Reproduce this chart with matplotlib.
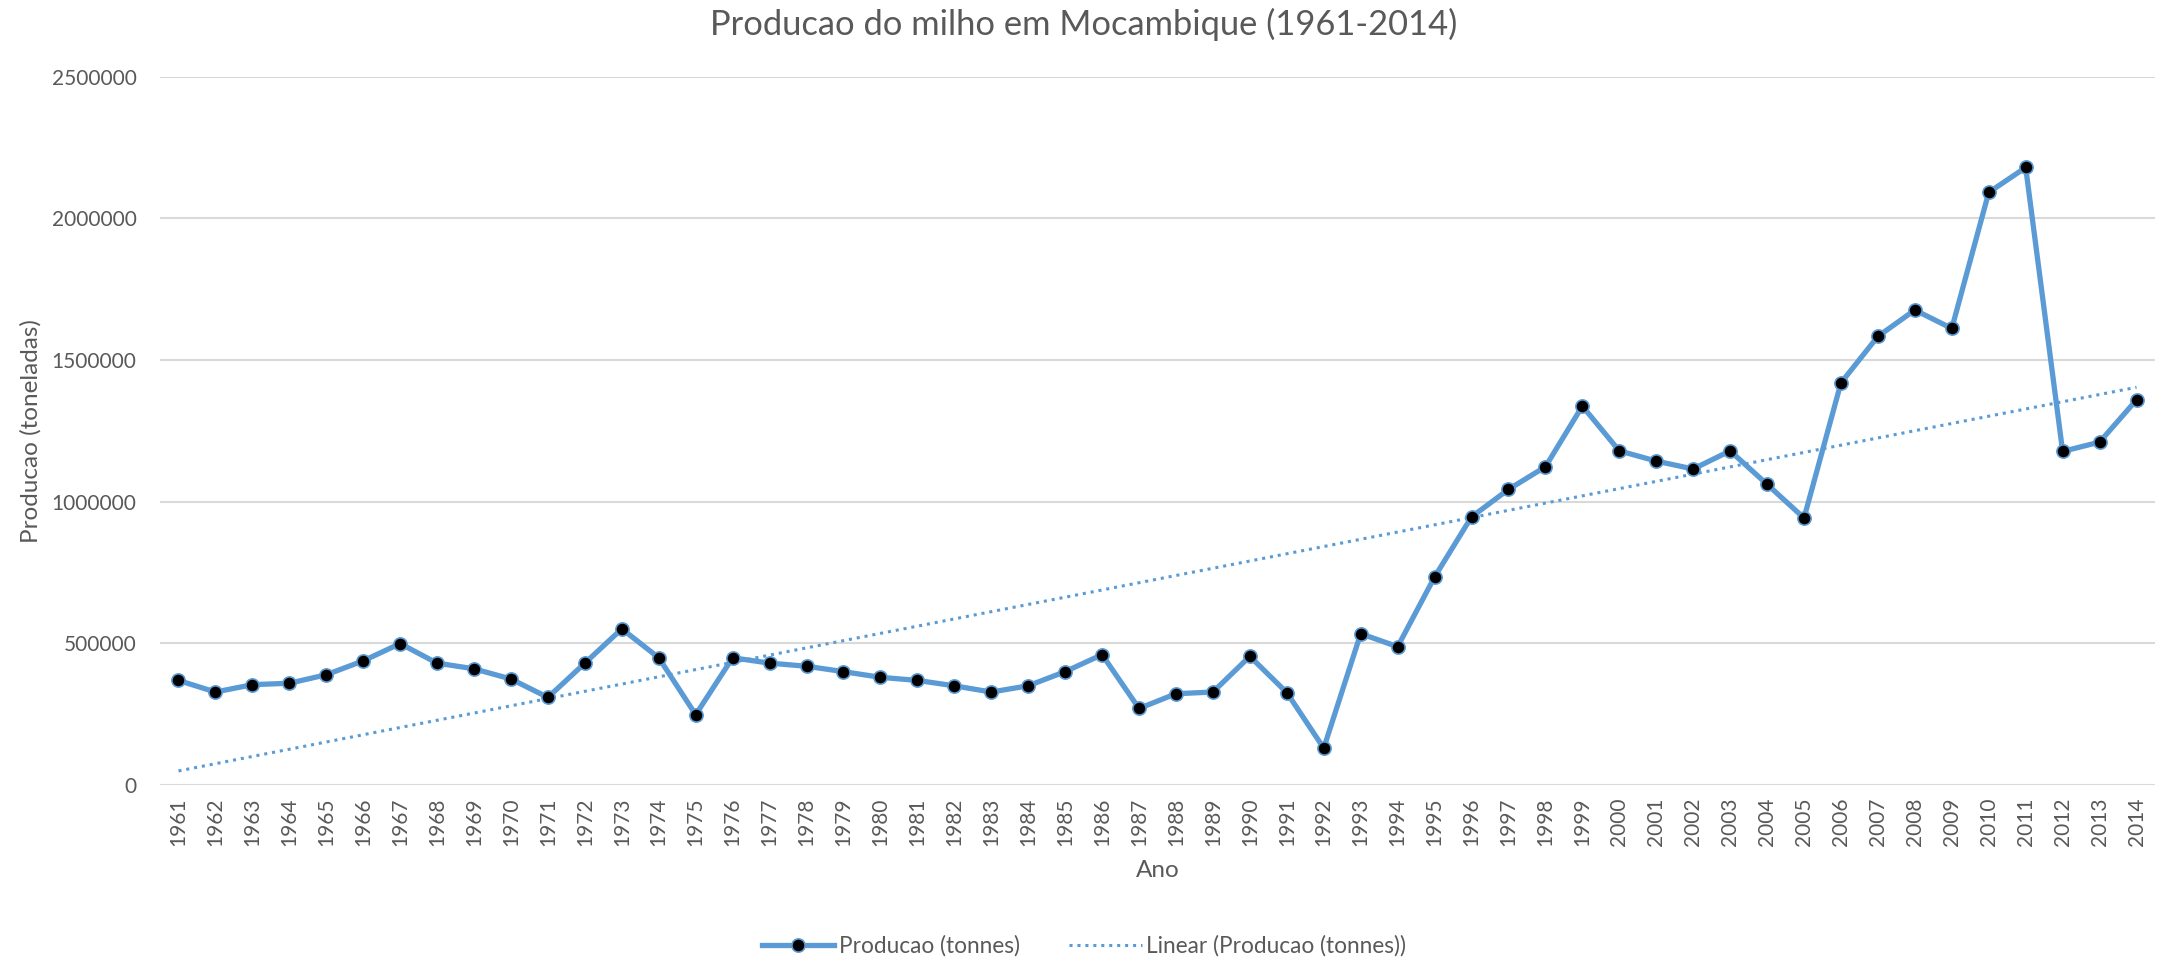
import numpy as np
import matplotlib
matplotlib.use("Agg")
import matplotlib.pyplot as plt
from matplotlib.ticker import FuncFormatter

plt.rcParams['font.family'] = ['Lato', 'DejaVu Sans']

years = list(range(1961, 2015))
production = [369000, 328000, 354000, 359000, 389000, 438000, 499000, 430000, 410000, 374000,
              309000, 430000, 551000, 449000, 248000, 449000, 430000, 419000, 400000, 380000,
              369000, 350000, 328000, 350000, 400000, 460000, 270000, 322000, 328000, 454000,
              326000, 130000, 534000, 488000, 734000, 946000, 1043000, 1123000, 1337000, 1179000,
              1143000, 1115000, 1179000, 1061000, 942000, 1419000, 1583000, 1676000, 1611000, 2091000,
              2179000, 1177000, 1210000, 1359000]
y_ticks = [0, 500000, 1000000, 1500000, 2000000, 2500000]

blue = '#5B9BD5'
grey_text = '#595959'
grid_col = '#D9D9D9'

fig = plt.figure(figsize=(21.68, 9.6), dpi=100)
ax = fig.add_axes([0.0738, 0.1823, 0.9202, 0.738])

x = np.arange(len(years))
coef = np.polyfit(x, production, 1)
trend = np.polyval(coef, x)

ax.plot(x, production, color=blue, linewidth=3.8, marker='o', markersize=9.5,
        markerfacecolor='black', markeredgecolor=blue, markeredgewidth=1.2,
        label='Producao (tonnes)', zorder=3)
ax.plot(x, trend, color=blue, linewidth=2.2, linestyle=(0, (1, 1.6)),
        label='Linear (Producao (tonnes))', zorder=2)

ax.set_xlim(-0.5, len(years) - 0.5)
ax.set_ylim(0, 2500000)
ax.set_yticks(y_ticks)
ax.yaxis.set_major_formatter(FuncFormatter(lambda v, p: f"{int(v)}"))
ax.set_xticks(x)
ax.set_xticklabels([str(y) for y in years], rotation=90)

ax.grid(axis='y', color=grid_col, linewidth=1.5)
ax.set_axisbelow(True)
for s in ax.spines.values():
    s.set_visible(False)
ax.tick_params(axis='both', length=0, labelsize=15, labelcolor=grey_text)
ax.tick_params(axis='y', pad=17)
ax.tick_params(axis='x', pad=9)

ax.set_xlabel('Ano', fontsize=17.5, color=grey_text, labelpad=10)
ax.set_ylabel('Producao (toneladas)', fontsize=17.5, color=grey_text, labelpad=7)
fig.text(0.5, 0.9745, 'Producao do milho em Mocambique (1961-2014)', ha='center', va='center',
         fontsize=24.8, color=grey_text)

leg = fig.legend(loc='center', bbox_to_anchor=(0.5, 0.0146), ncol=2, frameon=False,
                 fontsize=16.3, handlelength=3.2, handletextpad=0.2, columnspacing=2.2)
for t in leg.get_texts():
    t.set_color(grey_text)

fig.savefig('out.png', dpi=100)
